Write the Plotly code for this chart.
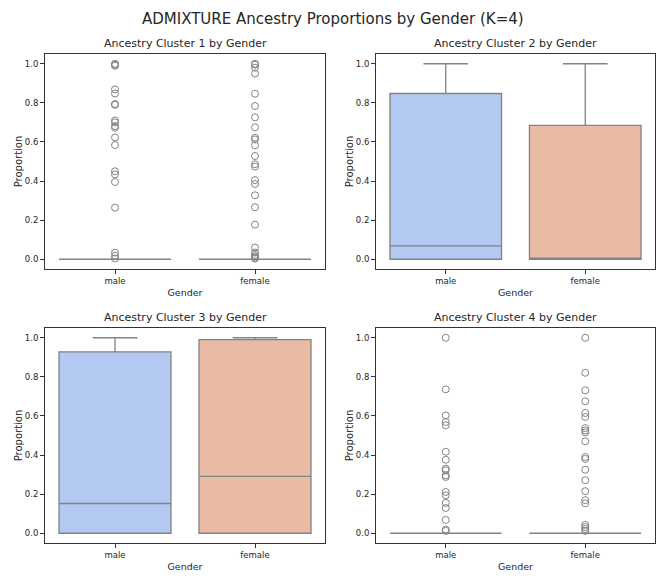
import plotly.graph_objects as go

genders = ["male", "female"]

# Cluster stats: q1, median, q3, lower whisker, upper whisker per gender
c1_q1 = [0.0, 0.0]; c1_med = [0.0, 0.0]; c1_q3 = [0.0, 0.0]; c1_lo = [0.0, 0.0]; c1_hi = [0.0, 0.0]
c2_q1 = [0.0, 0.0]; c2_med = [0.068, 0.0]; c2_q3 = [0.848, 0.685]; c2_lo = [0.0, 0.0]; c2_hi = [1.0, 1.0]
c3_q1 = [0.0, 0.0]; c3_med = [0.152, 0.291]; c3_q3 = [0.928, 0.991]; c3_lo = [0.0, 0.0]; c3_hi = [1.0, 1.0]
c4_q1 = [0.0, 0.0]; c4_med = [0.0, 0.0]; c4_q3 = [0.0, 0.0]; c4_lo = [0.0, 0.0]; c4_hi = [0.0, 0.0]

c1_male_out = [1.0, 0.995, 0.99, 0.869, 0.848, 0.794, 0.79, 0.71, 0.70, 0.681, 0.673, 0.623,
               0.584, 0.45, 0.434, 0.395, 0.264, 0.034, 0.018, 0.004]
c1_female_out = [1.0, 0.995, 0.98, 0.95, 0.847, 0.784, 0.726, 0.675, 0.622, 0.613, 0.583, 0.528,
                 0.486, 0.474, 0.405, 0.385, 0.327, 0.266, 0.177, 0.06, 0.034, 0.022, 0.014,
                 0.008, 0.003]
c2_male_out = []
c2_female_out = []
c3_male_out = []
c3_female_out = []
c4_male_out = [1.0, 0.736, 0.603, 0.569, 0.552, 0.417, 0.376, 0.33, 0.322, 0.296, 0.288, 0.211,
               0.194, 0.155, 0.129, 0.068, 0.019, 0.012]
c4_female_out = [1.0, 0.821, 0.731, 0.675, 0.615, 0.595, 0.538, 0.526, 0.516, 0.47, 0.39, 0.38,
                 0.325, 0.271, 0.215, 0.169, 0.153, 0.043, 0.032, 0.022, 0.012]

sub_titles = ["Ancestry Cluster 1 by Gender", "Ancestry Cluster 2 by Gender",
              "Ancestry Cluster 3 by Gender", "Ancestry Cluster 4 by Gender"]
main_title = "ADMIXTURE Ancestry Proportions by Gender (K=4)"
y_ticks = [0.0, 0.2, 0.4, 0.6, 0.8, 1.0]

fill_colors = ["#b4c9f1", "#e9bba4"]
line_col = "#838383"
W, H = 665, 576

clusters = [
    (c1_q1, c1_med, c1_q3, c1_lo, c1_hi, [c1_male_out, c1_female_out]),
    (c2_q1, c2_med, c2_q3, c2_lo, c2_hi, [c2_male_out, c2_female_out]),
    (c3_q1, c3_med, c3_q3, c3_lo, c3_hi, [c3_male_out, c3_female_out]),
    (c4_q1, c4_med, c4_q3, c4_lo, c4_hi, [c4_male_out, c4_female_out]),
]

# panel pixel boxes: left, right, top, bottom
panels = [(45, 325, 54, 269), (376, 655, 54, 269), (45, 325, 328, 543), (376, 655, 328, 543)]

fig = go.Figure()
font = "DejaVu Sans"
annotations = []
for i, (q1, med, q3, lo, hi, outs) in enumerate(clusters):
    ax = "" if i == 0 else str(i + 1)
    xref, yref = "x" + ax, "y" + ax
    for g in range(2):
        fig.add_trace(go.Box(
            x=[genders[g]], q1=[q1[g]], median=[med[g]], q3=[q3[g]],
            lowerfence=[lo[g]], upperfence=[hi[g]],
            fillcolor=fill_colors[g], line=dict(color=line_col, width=1.3),
            whiskerwidth=0.4, width=0.8, boxpoints=False, showlegend=False,
            xaxis=xref, yaxis=yref, hoverinfo="skip"))
        if outs[g]:
            fig.add_trace(go.Scatter(
                x=[genders[g]] * len(outs[g]), y=outs[g], mode="markers",
                marker=dict(symbol="circle-open", size=7, color=line_col,
                            line=dict(width=1, color=line_col)),
                showlegend=False, xaxis=xref, yaxis=yref))
    l, r, t, b = panels[i]
    xd = [l / W, r / W]
    yd = [1 - b / H, 1 - t / H]
    axis_common = dict(showline=True, mirror=True, linecolor="#333333", linewidth=1,
                       ticks="outside", ticklen=4, tickcolor="#333333", showgrid=False,
                       zeroline=False, automargin=False,
                       tickfont=dict(family=font, size=8.5, color="#262626"))
    fig.layout["xaxis" + ax] = dict(
        domain=xd, anchor=yref, type="category", categoryorder="array",
        categoryarray=genders, range=[-0.5, 1.5],
        title=dict(text="Gender", font=dict(family=font, size=9.5, color="#262626"), standoff=4),
        **axis_common)
    fig.layout["yaxis" + ax] = dict(
        domain=yd, anchor=xref, range=[-0.05, 1.05], tickvals=y_ticks,
        ticktext=[f"{v:.1f}" for v in y_ticks],
        title=dict(text="Proportion", font=dict(family=font, size=10, color="#262626"), standoff=0),
        **axis_common)
    annotations.append(dict(text=sub_titles[i], x=(xd[0] + xd[1]) / 2, y=yd[1],
                            xref="paper", yref="paper", xanchor="center", yanchor="bottom",
                            yshift=2, showarrow=False,
                            font=dict(family=font, size=11, color="#262626")))

annotations.append(dict(text=main_title, x=0.5, y=1 - 19 / H, xref="paper", yref="paper",
                        xanchor="center", yanchor="middle", showarrow=False,
                        font=dict(family=font, size=15, color="#262626")))

fig.update_layout(width=W, height=H, margin=dict(l=0, r=0, t=0, b=0),
                  paper_bgcolor="white", plot_bgcolor="white",
                  annotations=annotations, boxmode="overlay")

fig.write_html("out.html", config={"displayModeBar": False},
               post_script="document.body.style.margin='0px';document.body.style.padding='0px';")
